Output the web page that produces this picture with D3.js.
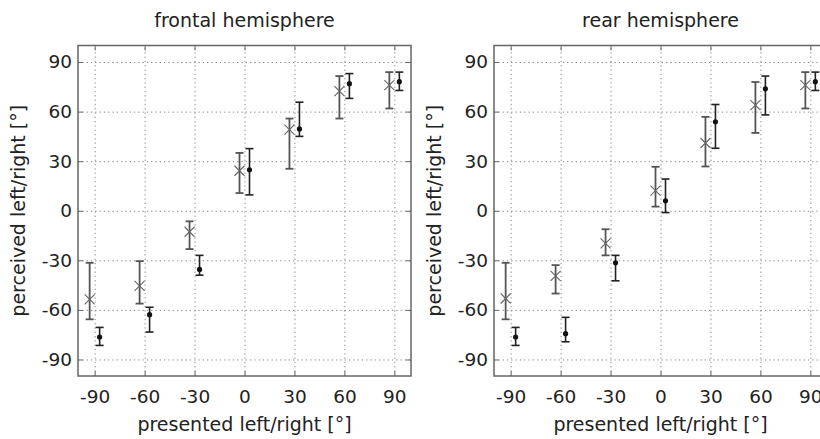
<!DOCTYPE html>
<html>
<head>
<meta charset="utf-8">
<script src="https://cdn.jsdelivr.net/npm/d3@7"></script>
<style>
  body { margin: 0; background: #fff; }
  svg { display: block; font-family: "DejaVu Sans", sans-serif; }
</style>
</head>
<body>
<svg id="chart"></svg>
<script>
// presented directions (deg)
const presented = [-90, -60, -30, 0, 30, 60, 90];
const tickValues = [-90, -60, -30, 0, 30, 60, 90];

// frontal hemisphere: "x" series and dot series (value, lower, upper)
const frontCross = [-53.6, -45.5, -12.7, 24.2, 49.1, 72.4, 76];
const frontCrossLo = [-65.7, -56.2, -23.2, 10.7, 25.4, 55.8, 61.9];
const frontCrossHi = [-31.5, -30.5, -6.4, 35, 55.8, 81.5, 83.9];
const frontDot = [-76.4, -62.9, -35.5, 24.8, 49.5, 76.9, 78.1];
const frontDotLo = [-81.5, -73.4, -39, 9.6, 45, 68, 72.8];
const frontDotHi = [-70.6, -58.4, -27, 37.6, 65.7, 83, 83.9];

// rear hemisphere
const rearCross = [-53.1, -39.4, -19.7, 12.2, 41, 63.9, 76];
const rearCrossLo = [-65.7, -50.1, -27, 2.5, 26.8, 47.1, 61.9];
const rearCrossHi = [-31.5, -32.9, -11.2, 26.6, 56.8, 77.9, 83.9];
const rearDot = [-76.4, -74.4, -31.5, 6, 53.8, 73.8, 78.1];
const rearDotLo = [-81.5, -79.3, -42.4, -1.1, 37.8, 58, 72.8];
const rearDotHi = [-70.6, -64.5, -27, 19.2, 64.3, 81.5, 83.9];

const width = 820;
const height = 439;

const svg = d3.select('#chart')
    .attr('width', width)
    .attr('height', height);

svg.append('rect')
    .attr('width', width)
    .attr('height', height)
    .attr('fill', '#fff');

function series(vals, lo, hi, shift) {
    return presented.map((p, i) => ({ x: p + shift, v: vals[i], lo: lo[i], hi: hi[i] }));
}

// plain hyphen for negatives, like the original figure
const fmt = d => String(d);

function drawPanel(left, title, cross, dots) {
    const top = 45.5, bottom = 376, w = 333;
    const x = d3.scaleLinear().domain([-100, 100]).range([left, left + w]);
    const y = d3.scaleLinear().domain([-100, 100]).range([bottom, top]);
    const g = svg.append('g');

    // dotted grid
    g.append('g')
        .attr('transform', `translate(0,${bottom})`)
        .call(d3.axisBottom(x).tickValues(tickValues).tickSize(-(bottom - top)).tickFormat(''))
        .call(a => a.select('.domain').remove())
        .selectAll('line')
        .attr('stroke', '#888')
        .attr('stroke-dasharray', '1.3,3');
    g.append('g')
        .attr('transform', `translate(${left},0)`)
        .call(d3.axisLeft(y).tickValues(tickValues).tickSize(-w).tickFormat(''))
        .call(a => a.select('.domain').remove())
        .selectAll('line')
        .attr('stroke', '#888')
        .attr('stroke-dasharray', '1.3,3');

    // axes with inward ticks
    const fontStyle = a => a.selectAll('text')
        .attr('fill', '#222')
        .style('font-size', '18.5px')
        .style('font-family', '"DejaVu Sans", sans-serif');
    const lineStyle = a => {
        a.select('.domain').remove();
        a.selectAll('line').attr('stroke', '#666');
    };

    g.append('g')
        .attr('transform', `translate(0,${bottom})`)
        .call(d3.axisBottom(x).tickValues(tickValues).tickFormat(fmt).tickSize(-5).tickPadding(14))
        .call(lineStyle).call(fontStyle);
    g.append('g')
        .attr('transform', `translate(0,${top})`)
        .call(d3.axisTop(x).tickValues(tickValues).tickSize(-5).tickFormat(''))
        .call(lineStyle);
    g.append('g')
        .attr('transform', `translate(${left},0)`)
        .call(d3.axisLeft(y).tickValues(tickValues).tickFormat(fmt).tickSize(-5).tickPadding(6))
        .call(lineStyle).call(fontStyle);
    g.append('g')
        .attr('transform', `translate(${left + w},0)`)
        .call(d3.axisRight(y).tickValues(tickValues).tickSize(-5).tickFormat(''))
        .call(lineStyle);

    // box
    g.append('rect')
        .attr('x', left)
        .attr('y', top)
        .attr('width', w)
        .attr('height', bottom - top)
        .attr('fill', 'none')
        .attr('stroke', '#666')
        .attr('stroke-width', 1.5);

    // error bars
    function errorBars(data, color, sw) {
        const eb = g.append('g').attr('stroke', color).attr('stroke-width', sw).attr('fill', 'none');
        eb.selectAll('.v').data(data).join('line')
            .attr('x1', d => x(d.x)).attr('x2', d => x(d.x))
            .attr('y1', d => y(d.lo)).attr('y2', d => y(d.hi));
        eb.selectAll('.lo').data(data).join('line')
            .attr('x1', d => x(d.x) - 4).attr('x2', d => x(d.x) + 4)
            .attr('y1', d => y(d.lo)).attr('y2', d => y(d.lo));
        eb.selectAll('.hi').data(data).join('line')
            .attr('x1', d => x(d.x) - 4).attr('x2', d => x(d.x) + 4)
            .attr('y1', d => y(d.hi)).attr('y2', d => y(d.hi));
    }

    errorBars(cross, '#555', 1.8);
    errorBars(dots, '#222', 1.6);

    // x markers
    g.append('g').selectAll('path').data(cross).join('path')
        .attr('d', d => {
            const cx = x(d.x), cy = y(d.v), s = 5;
            return `M${cx - s},${cy - s}L${cx + s},${cy + s}M${cx - s},${cy + s}L${cx + s},${cy - s}`;
        })
        .attr('stroke', '#666')
        .attr('stroke-width', 1.1);

    // dot markers
    g.append('g').selectAll('circle').data(dots).join('circle')
        .attr('cx', d => x(d.x))
        .attr('cy', d => y(d.v))
        .attr('r', 2.6)
        .attr('fill', '#111');

    // title and labels
    g.append('text')
        .attr('x', left + w / 2)
        .attr('y', 26.5)
        .attr('text-anchor', 'middle')
        .attr('fill', '#222')
        .style('font-size', '19px')
        .text(title);

    g.append('text')
        .attr('x', left + w / 2)
        .attr('y', 430.5)
        .attr('text-anchor', 'middle')
        .attr('fill', '#222')
        .style('font-size', '19px')
        .text('presented left/right [°]');

    g.append('text')
        .attr('transform', `translate(${left - 53},${(top + bottom) / 2}) rotate(-90)`)
        .attr('text-anchor', 'middle')
        .attr('fill', '#222')
        .style('font-size', '19px')
        .text('perceived left/right [°]');
}

drawPanel(78, 'frontal hemisphere',
    series(frontCross, frontCrossLo, frontCrossHi, -3),
    series(frontDot, frontDotLo, frontDotHi, 3));

drawPanel(494, 'rear hemisphere',
    series(rearCross, rearCrossLo, rearCrossHi, -3),
    series(rearDot, rearDotLo, rearDotHi, 3));
</script>
</body>
</html>
